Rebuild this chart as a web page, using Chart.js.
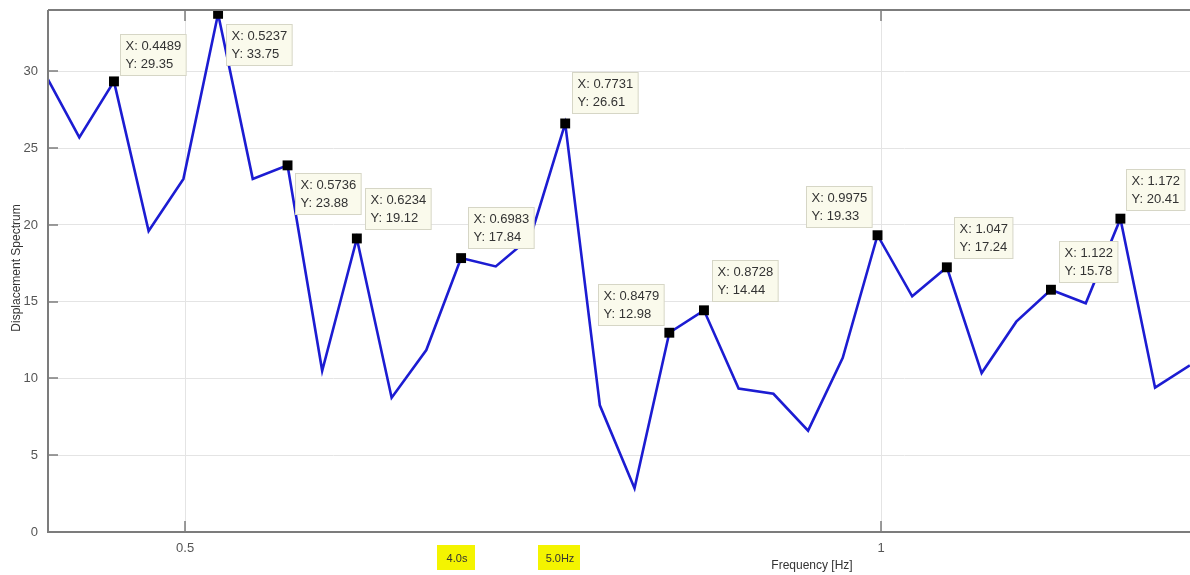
<!DOCTYPE html>
<html>
<head>
<meta charset="utf-8">
<script src="https://cdn.jsdelivr.net/npm/chart.js@4/dist/chart.umd.min.js"></script>
<style>
  html, body { margin: 0; padding: 0; background: #fff; }
  #wrap { width: 1190px; height: 575px; position: relative; }
</style>
</head>
<body>
<div id="wrap"><canvas id="spec"></canvas></div>
<script>
// ── Data ──
const freq = [0.3990, 0.4240, 0.4489, 0.4738, 0.4988, 0.5237, 0.5486, 0.5736, 0.5985, 0.6234,
              0.6484, 0.6733, 0.6983, 0.7232, 0.7481, 0.7731, 0.7980, 0.8229, 0.8479, 0.8728,
              0.8977, 0.9227, 0.9476, 0.9725, 0.9975, 1.0224, 1.0473, 1.0723, 1.0972, 1.1221,
              1.1471, 1.1720, 1.1969, 1.2219];
const amp  = [29.9, 25.7, 29.35, 19.6, 23.0, 33.75, 23.0, 23.88, 10.5, 19.12,
              8.75, 11.85, 17.84, 17.3, 19.2, 26.61, 8.25, 2.85, 12.98, 14.44,
              9.35, 9.0, 6.6, 11.35, 19.33, 15.35, 17.24, 10.35, 13.7, 15.78,
              14.9, 20.41, 9.4, 10.85];
// indices of the points carrying a data tip
const tipIndex = [2, 5, 7, 9, 12, 15, 18, 19, 24, 26, 29, 31];
const xTicks = [0.5, 1];
const yTicks = [0, 5, 10, 15, 20, 25, 30];
const xTitle = 'Frequency [Hz]';
const yTitle = 'Displacement Spectrum';
const badges = ['4.0s', '5.0Hz'];

// ── Styling ──
const FONT = '"Liberation Sans", Arial, sans-serif';
// box offset from marker centre (px), one per tip
const tipOffsets = [[6,-47],[8,10],[7,8],[8,-50],[7,-51],[7,-51],[-71,-49],[8,-50],[-72,-49],[7,-50],[8,-49],[6,-50]];

const points = freq.map((f, i) => ({ x: f, y: amp[i] }));

const overlay = {
  id: 'overlay',
  afterDatasetsDraw(chart) {
    const { ctx, chartArea: a, scales: { x, y } } = chart;
    ctx.save();

    // box frame + inward ticks (MATLAB look)
    ctx.strokeStyle = '#7c7c7c';
    ctx.lineWidth = 2;
    ctx.beginPath();
    ctx.moveTo(a.left, a.top); ctx.lineTo(a.left, a.bottom); ctx.lineTo(a.right, a.bottom);
    ctx.moveTo(a.left, a.top); ctx.lineTo(a.right, a.top);
    ctx.stroke();
    ctx.lineWidth = 1.5;
    ctx.beginPath();
    yTicks.forEach(v => {
      const py = Math.round(y.getPixelForValue(v));
      ctx.moveTo(a.left, py); ctx.lineTo(a.left + 10, py);
    });
    xTicks.forEach(v => {
      const px = Math.round(x.getPixelForValue(v));
      ctx.moveTo(px, a.bottom); ctx.lineTo(px, a.bottom - 11);
      ctx.moveTo(px, a.top); ctx.lineTo(px, a.top + 11);
    });
    ctx.stroke();

    // data tips
    ctx.font = '13px ' + FONT;
    tipIndex.forEach((idx, k) => {
      const px = x.getPixelForValue(freq[idx]);
      const py = y.getPixelForValue(amp[idx]);
      const l1 = 'X: ' + freq[idx].toPrecision(4);
      const l2 = 'Y: ' + amp[idx].toPrecision(4);
      const w = Math.max(ctx.measureText(l1).width, ctx.measureText(l2).width) + 10;
      const h = 41;
      const bx = Math.round(px + tipOffsets[k][0]) + 0.5;
      const by = Math.round(py + tipOffsets[k][1]) + 0.5;
      ctx.fillStyle = '#fafaec';
      ctx.strokeStyle = '#d6d6c6';
      ctx.lineWidth = 1;
      ctx.fillRect(bx, by, w, h);
      ctx.strokeRect(bx, by, w, h);
      ctx.fillStyle = '#333';
      ctx.textAlign = 'left';
      ctx.textBaseline = 'middle';
      ctx.fillText(l1, bx + 5, by + 12);
      ctx.fillText(l2, bx + 5, by + 30);
    });

    // axis titles
    ctx.fillStyle = '#333';
    ctx.font = '12px ' + FONT;
    ctx.textAlign = 'center';
    ctx.textBaseline = 'middle';
    ctx.fillText(xTitle, 812, 566);
    ctx.save();
    ctx.translate(17, 268);
    ctx.rotate(-Math.PI / 2);
    ctx.fillText(yTitle, 0, 0);
    ctx.restore();

    // yellow badges under the axis
    const badgeBox = [[437, 545, 38, 25], [538, 545, 42, 25]];
    ctx.font = '11px ' + FONT;
    badges.forEach((t, i) => {
      const [bx, by, bw, bh] = badgeBox[i];
      ctx.fillStyle = '#f4f400';
      ctx.fillRect(bx, by, bw, bh);
      ctx.fillStyle = '#333';
      ctx.fillText(t, bx + bw / 2 + 1, by + bh / 2 + 1);
    });

    ctx.restore();
  }
};

new Chart(document.getElementById('spec'), {
  type: 'line',
  data: {
    datasets: [{
      data: points,
      borderColor: '#1c1cd2',
      borderWidth: 2.6,
      tension: 0,
      pointStyle: 'rect',
      pointRadius: c => tipIndex.includes(c.dataIndex) ? 7 : 0,
      pointBackgroundColor: '#000',
      pointBorderWidth: 0,
      pointHoverRadius: 0
    }]
  },
  options: {
    responsive: true,
    maintainAspectRatio: false,
    animation: false,
    layout: { padding: { top: 10, right: 0, left: 0, bottom: 0 } },
    plugins: { legend: { display: false }, tooltip: { enabled: false } },
    scales: {
      x: {
        type: 'linear',
        min: 0.4015,
        max: 1.222,
        afterBuildTicks: s => { s.ticks = xTicks.map(v => ({ value: v })); },
        afterFit: s => { s.height = 43; s.paddingLeft = 0; s.paddingRight = 0; },
        grid: { color: '#e4e4e4', drawTicks: false },
        border: { display: false },
        ticks: { color: '#555', padding: 9, font: { size: 13, family: FONT },
                 callback: v => String(v) }
      },
      y: {
        min: 0,
        max: 34,
        afterBuildTicks: s => { s.ticks = yTicks.map(v => ({ value: v })); },
        afterFit: s => { s.width = 48; s.paddingTop = 0; s.paddingBottom = 0; },
        grid: { color: '#e4e4e4', drawTicks: false },
        border: { display: false },
        ticks: { color: '#555', padding: 10, font: { size: 13, family: FONT } }
      }
    }
  },
  plugins: [overlay]
});
</script>
</body>
</html>
